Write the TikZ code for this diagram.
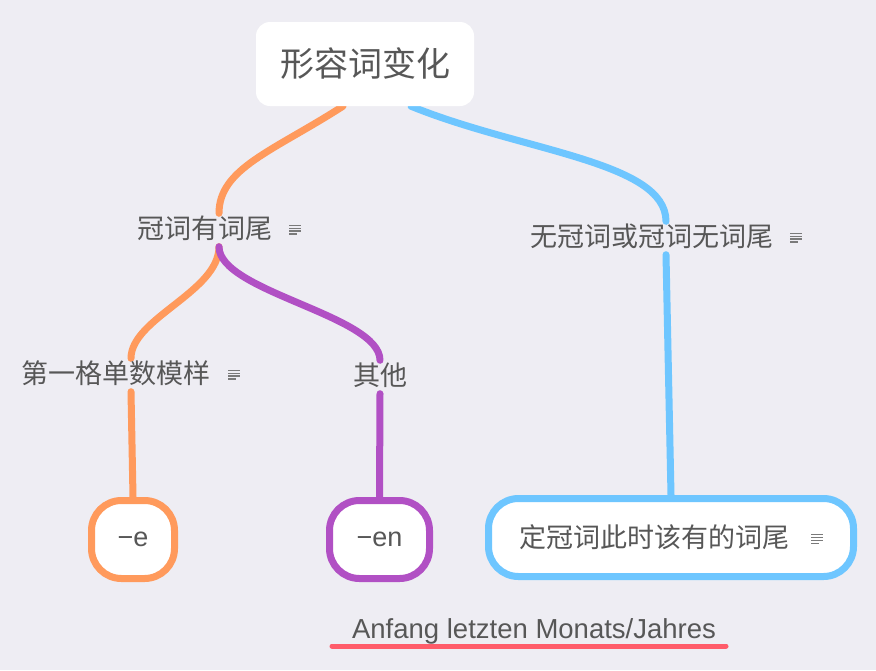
\documentclass[tikz,border=0pt]{standalone}
\usepackage{fontspec}
\setmainfont{Liberation Sans}
\newfontfamily\cjk{Noto Sans CJK SC}
\usetikzlibrary{positioning,calc}
\definecolor{bgColor}{HTML}{EEEDF3}
\definecolor{txtColor}{HTML}{575757}
\definecolor{orColor}{HTML}{FF9A5C}
\definecolor{puColor}{HTML}{B150C4}
\definecolor{blColor}{HTML}{6EC6FF}
\definecolor{rdColor}{HTML}{FF5C6A}
\definecolor{icColor}{HTML}{7A7A7A}
\newcommand{\noteIcon}{\raisebox{4pt}{\textcolor{icColor}{\vbox{\hrule width 12pt height 1.3pt \vskip 1.5pt
			\hrule width 12pt height 1.3pt \vskip 1.5pt \hrule width 12pt height 1.3pt \vskip 1.5pt
			\hrule width 8pt height 1.3pt}}}}
\pgfdeclarelayer{bg}
\pgfdeclarelayer{edges}
\pgfsetlayers{bg,edges,main}
\tikzset{topic/.style={fill=white, rounded corners=14pt, minimum width=218pt, minimum height=84pt,
		inner sep=0pt, text=txtColor, font=\cjk\fontsize{34}{40}\selectfont}}
\tikzset{sub topic/.style={text=txtColor, font=\cjk\fontsize{27}{32}\selectfont, inner xsep=0pt,
		inner ysep=4pt, text height=21pt, text depth=4pt}}
\tikzset{leaf/.style={fill=white, line width=7pt, rounded corners=30pt, minimum height=78pt,
		inner sep=0pt, text=txtColor, font=\fontsize{27}{32}\selectfont}}
\tikzset{branch/.style={line width=7pt, line cap=round}}

\begin{document}
\begin{tikzpicture}[x=1pt, y=-1pt]
	\useasboundingbox (0,0) rectangle (876,670);
	\begin{pgfonlayer}{bg}
		\fill[bgColor] (0,0) rectangle (876,670);
	\end{pgfonlayer}
	\node[topic] at (365,64) (root) {形容词变化};
	\node[sub topic] at (219,230) (kw) {冠词有词尾\hspace{17pt}\noteIcon};
	\node[sub topic] at (666,238) (nokw) {无冠词或冠词无词尾\hspace{17pt}\noteIcon};
	\node[sub topic] at (131,375) (first) {第一格单数模样\hspace{18pt}\noteIcon};
	\node[sub topic] at (380,377) (other) {其他};
	\node[leaf, draw=orColor, minimum width=83pt] at (133,539.5) (ebox) {−e};
	\node[leaf, draw=puColor, minimum width=100pt] at (379.5,539.5) (enbox) {−en};
	\node[leaf, draw=blColor, minimum width=365pt, font=\cjk\fontsize{27}{32}\selectfont] at (671,537.5) (defbox)
		{定冠词此时该有的词尾\hspace{22pt}\noteIcon};
	\node[anchor=base, text=txtColor, font=\fontsize{27.5}{32}\selectfont, inner sep=0pt] at (534,638) (note)
		{Anfang letzten Monats/Jahres};
	\begin{pgfonlayer}{edges}
		\draw[branch, orColor] ([xshift=-22pt]root.south) .. controls +(-70,45) and +(0,-45) .. (kw.north);
		\draw[branch, blColor] ([xshift=46pt]root.south) .. controls +(110,45) and +(0,-60) .. (nokw.north);
		\draw[branch, orColor] (kw.south) .. controls +(0,45) and +(0,-40) .. (first.north);
		\draw[branch, puColor] (kw.south) .. controls +(0,45) and +(0,-45) .. (other.north);
		\draw[branch, orColor] (first.south) -- (ebox.north);
		\draw[branch, puColor] (other.south) -- (enbox.north);
		\draw[branch, blColor] (nokw.south) -- (defbox.north);
	\end{pgfonlayer}
	\draw[rdColor, line width=5pt, line cap=round] ([xshift=-202pt,yshift=-8pt]note.base) -- ([xshift=192pt,yshift=-8pt]note.base);
\end{tikzpicture}
\end{document}
